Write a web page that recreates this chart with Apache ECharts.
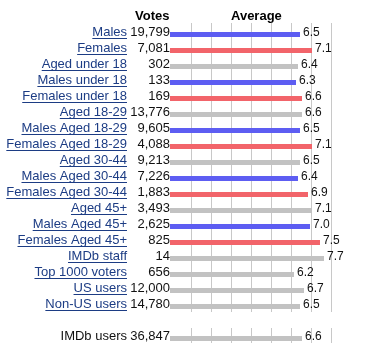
<!DOCTYPE html>
<html>
<head>
<meta charset="utf-8">
<script src="https://cdn.jsdelivr.net/npm/echarts@6/dist/echarts.min.js"></script>
<style>html,body{margin:0;padding:0;background:#fff}#c{width:385px;height:359px}</style>
</head>
<body>
<div id="c"></div>
<script>
var categories = ['Males','Females','Aged under 18','Males under 18','Females under 18','Aged 18-29','Males Aged 18-29','Females Aged 18-29','Aged 30-44','Males Aged 30-44','Females Aged 30-44','Aged 45+','Males Aged 45+','Females Aged 45+','IMDb staff','Top 1000 voters','US users','Non-US users','','IMDb users'];
var votes = ['19,799','7,081','302','133','169','13,776','9,605','4,088','9,213','7,226','1,883','3,493','2,625','825','14','656','12,000','14,780','','36,847'];
var averages = [6.5,7.1,6.4,6.3,6.6,6.6,6.5,7.1,6.5,6.4,6.9,7.1,7.0,7.5,7.7,6.2,6.7,6.5,null,6.6];
var groups = ['m','f','a','m','f','a','m','f','a','m','f','a','m','f','a','a','a','a','','a'];

var FONT = '"Liberation Sans", Arial, sans-serif';
var colorMap = { m: '#5d5df2', f: '#f2646a', a: '#c2c2c2', '': '#c2c2c2' };
var measureCtx = document.createElement('canvas').getContext('2d');
measureCtx.font = '13px ' + FONT;

var chart = echarts.init(document.getElementById('c'), null, { renderer: 'canvas' });

var gridAxisX = function (gi) {
  return {
    type: 'value', gridIndex: gi, min: 0, max: 8, interval: 1,
    axisLine: { show: false }, axisTick: { show: false }, axisLabel: { show: false },
    splitLine: { show: true, showMinLine: false, showMaxLine: true, lineStyle: { color: '#c8c8c8', width: 1 } }
  };
};
var gridAxisY = function (gi) {
  return { type: 'value', gridIndex: gi, min: 0, max: 1, show: false, splitLine: { show: false } };
};

chart.setOption({
  animation: false,
  backgroundColor: '#fff',
  grid: [
    { left: 170, top: 26.5, width: 200, height: 320 },
    { left: 171.7, top: 23, width: 160, height: 289 },
    { left: 171.7, top: 328, width: 160, height: 15 }
  ],
  xAxis: [
    { type: 'value', gridIndex: 0, min: 0, max: 10, show: false, splitLine: { show: false } },
    gridAxisX(1), gridAxisX(2)
  ],
  yAxis: [
    { type: 'category', gridIndex: 0, data: categories, inverse: true, show: false },
    gridAxisY(1), gridAxisY(2)
  ],
  graphic: [
    { type: 'text', left: 135, top: 10, style: { text: 'Votes', font: 'bold 13px ' + FONT, fill: '#000' } },
    { type: 'text', left: 231, top: 10, style: { text: 'Average', font: 'bold 13px ' + FONT, fill: '#000' } }
  ],
  series: [
    {
      type: 'bar', xAxisIndex: 0, yAxisIndex: 0, barWidth: 5,
      data: averages.map(function (v, i) {
        return { value: v, itemStyle: { color: colorMap[groups[i]] } };
      }),
      label: {
        show: true, position: 'right', distance: 3, offset: [0, -2],
        formatter: function (p) { return p.value == null ? '' : p.value.toFixed(1); },
        font: '13px ' + FONT, color: '#111'
      },
      z: 3
    },
    {
      type: 'custom', xAxisIndex: 0, yAxisIndex: 0,
      data: categories.map(function (c, i) { return [0, i]; }),
      encode: { x: 0, y: 1 },
      renderItem: function (params, api) {
        var i = api.value(1);
        var name = categories[i];
        if (!name) return { type: 'group', children: [] };
        var pt = api.coord([0, i]);
        var x0 = pt[0], y = pt[1];
        var nameRight = x0 - 43;
        var linked = i !== categories.length - 1;
        var w = measureCtx.measureText(name).width;
        var children = [
          { type: 'text', style: { text: name, x: nameRight, y: y - 2, align: 'right', verticalAlign: 'middle', font: '13px ' + FONT, fill: linked ? '#1c3c84' : '#111' } },
          { type: 'text', style: { text: votes[i], x: x0, y: y - 2, align: 'right', verticalAlign: 'middle', font: '13px ' + FONT, fill: '#111' } }
        ];
        if (linked) {
          children.push({ type: 'line', shape: { x1: nameRight - w, y1: y + 4, x2: nameRight, y2: y + 4 }, style: { stroke: '#1c3c84', lineWidth: 1 } });
        }
        return { type: 'group', children: children };
      },
      z: 4
    }
  ]
});
</script>
</body>
</html>
